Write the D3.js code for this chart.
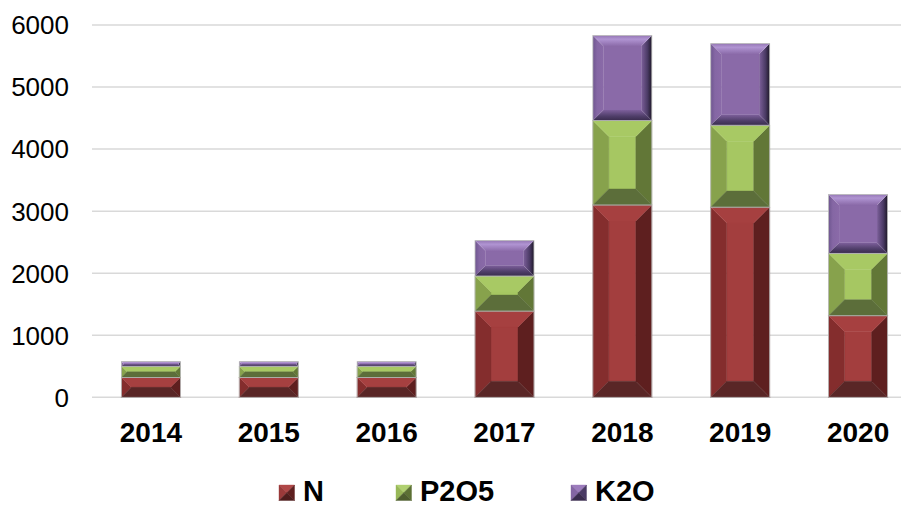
<!DOCTYPE html>
<html>
<head>
<meta charset="utf-8">
<script src="https://cdn.jsdelivr.net/npm/d3@7"></script>
<style>
  body { margin: 0; background: #fff; }
  svg { display: block; font-family: "Liberation Sans", Arial, sans-serif; }
</style>
</head>
<body>
<svg id="chart" width="901" height="507"></svg>
<script>
const years = ["2014", "2015", "2016", "2017", "2018", "2019", "2020"];
const nVals = [320, 320, 320, 1390, 3100, 3065, 1315];
const pVals = [180, 180, 180, 565, 1360, 1320, 1005];
const kVals = [75, 75, 75, 570, 1370, 1315, 950];
const seriesNames = ["N", "P2O5", "K2O"];
const yTicks = [0, 1000, 2000, 3000, 4000, 5000, 6000];

// bevel shades per series: face, top, left, right, bottom
const shades = {
    "N":    { face: "#a33e3e", top: "#a64040", left: "#842d2d", right: "#5e1f1f", bottom: "#592626" },
    "P2O5": { face: "#a6c762", top: "#a8c964", left: "#87a24c", right: "#627737", bottom: "#5c6e3a" },
    "K2O":  { face: "#8a6aa8", top: "url(#kTop)", left: "url(#kLeft)", right: "url(#kRight)", bottom: "url(#kBottom)" }
};

const svg = d3.select("#chart");

const defs = svg.append("defs");
function grad(id, x2, y2, stops) {
    const g = defs.append("linearGradient").attr("id", id)
        .attr("x1", 0).attr("y1", 0).attr("x2", x2).attr("y2", y2);
    stops.forEach(s => g.append("stop").attr("offset", s[0]).attr("stop-color", s[1]));
}
grad("kTop", 0, 1, [[0, "#9577b5"], [0.35, "#b094d2"], [1, "#8b6ba9"]]);
grad("kLeft", 1, 0, [[0, "#6f5690"], [0.4, "#8567a4"], [1, "#8a6aa8"]]);
grad("kRight", 1, 0, [[0, "#7c5f9a"], [0.6, "#4a3a64"], [1, "#1e1828"]]);
grad("kBottom", 0, 1, [[0, "#7d5f9b"], [0.6, "#4e3d68"], [1, "#3a2c4e"]]);

const x = d3.scaleBand()
    .domain(years)
    .range([92, 917])
    .paddingInner(0.5)
    .paddingOuter(0.25);

const y = d3.scaleLinear()
    .domain([0, 6000])
    .range([397.3, 25]);

// gridlines
svg.append("g")
    .selectAll("line")
    .data(yTicks)
    .enter().append("line")
    .attr("x1", 92)
    .attr("x2", 901)
    .attr("y1", d => y(d))
    .attr("y2", d => y(d))
    .attr("stroke", "#d9d9d9")
    .attr("stroke-width", 1.5);

// y axis labels
svg.append("g")
    .selectAll("text")
    .data(yTicks)
    .enter().append("text")
    .attr("x", 69)
    .attr("y", d => y(d))
    .attr("dy", "0.36em")
    .attr("text-anchor", "end")
    .attr("font-size", "26px")
    .attr("fill", "#000")
    .text(d => d);

// x axis labels
svg.append("g")
    .selectAll("text")
    .data(years)
    .enter().append("text")
    .attr("x", d => x(d) + x.bandwidth() / 2)
    .attr("y", 442)
    .attr("text-anchor", "middle")
    .attr("font-size", "28px")
    .attr("font-weight", "bold")
    .attr("fill", "#000")
    .text(d => d);

// stacked data
const rows = years.map((yr, i) => ({ year: yr, "N": nVals[i], "P2O5": pVals[i], "K2O": kVals[i] }));
const stacked = d3.stack().keys(seriesNames)(rows);

function bevelPolys(x0, y0, w, h, bMax) {
    const b = Math.min(bMax, h / 2, w / 2);
    const x1 = x0 + w, y1 = y0 + h;
    return {
        face: [[x0 + b, y0 + b], [x1 - b, y0 + b], [x1 - b, y1 - b], [x0 + b, y1 - b]],
        left: [[x0, y0], [x0 + b, y0 + b], [x0 + b, y1 - b], [x0, y1]],
        right: [[x1, y0], [x1 - b, y0 + b], [x1 - b, y1 - b], [x1, y1]],
        top: [[x0, y0], [x1, y0], [x1 - b, y0 + b], [x0 + b, y0 + b]],
        bottom: [[x0, y1], [x1, y1], [x1 - b, y1 - b], [x0 + b, y1 - b]]
    };
}

const pts = p => p.map(q => q.join(",")).join(" ");

stacked.forEach(layer => {
    const name = layer.key;
    const sh = shades[name];
    const bMax = name === "K2O" ? 10.5 : 16;
    const g = svg.append("g").attr("class", "series-" + name);
    layer.forEach((d, i) => {
        const x0 = x(years[i]);
        const w = x.bandwidth();
        const yTop = y(d[1]);
        const h = y(d[0]) - yTop;
        const polys = bevelPolys(x0, yTop, w, h, bMax);
        const seg = g.append("g");
        ["face", "left", "right", "top", "bottom"].forEach(k => {
            seg.append("polygon")
                .attr("points", pts(polys[k]))
                .attr("fill", sh[k])
                .attr("stroke", sh[k].startsWith("url") ? "none" : sh[k])
                .attr("stroke-width", 0.4);
        });
        seg.append("rect")
            .attr("x", x0)
            .attr("y", yTop)
            .attr("width", w)
            .attr("height", h)
            .attr("fill", "none")
            .attr("stroke", "#b8b8b8")
            .attr("stroke-width", 0.8);
    });
});

// legend
const legendX = [279, 396, 571];
const legend = svg.append("g");
seriesNames.forEach((name, i) => {
    const lx = legendX[i], ly = 485, s = 15.5;
    const polys = bevelPolys(lx, ly, s, s, s / 2);
    const sw = {
        "N":    { top: "#b04848", left: "#9a3a3a", right: "#5e1f1f", bottom: "#4e1c1c" },
        "P2O5": { top: "#b0d070", left: "#98b858", right: "#5c7034", bottom: "#4e5e2e" },
        "K2O":  { top: "#9c7cbc", left: "#8466a4", right: "#4a3a64", bottom: "#3a2c4e" }
    }[name];
    ["top", "left", "right", "bottom"].forEach(k => {
        legend.append("polygon")
            .attr("points", pts(polys[k]))
            .attr("fill", sw[k])
            .attr("stroke", sw[k])
            .attr("stroke-width", 0.4);
    });
    legend.append("text")
        .attr("x", lx + 24)
        .attr("y", 500.5)
        .attr("font-size", "29px")
        .attr("font-weight", "bold")
        .attr("fill", "#000")
        .text(name);
});
</script>
</body>
</html>
